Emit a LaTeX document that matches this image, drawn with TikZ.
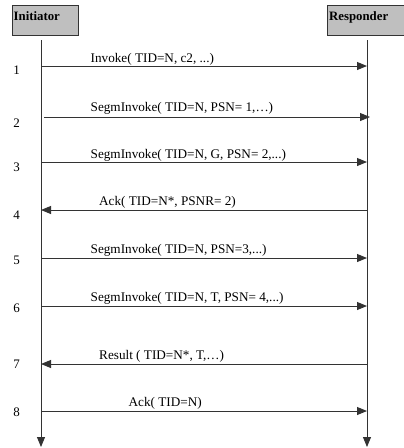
\documentclass[tikz,border=0pt]{standalone}
\usepackage{fontspec}
\setmainfont{Liberation Serif}
\usetikzlibrary{arrows.meta}
\begin{document}
\begin{tikzpicture}[x=1pt,y=-1pt,
  hdr/.style={draw=black!80,fill=black!25,line width=0.8pt},
  hdrtxt/.style={anchor=north west,inner sep=0pt,font=\fontsize{12.8}{14}\selectfont\bfseries},
  life/.style={draw=black!80,line width=0.9pt,-{Triangle[length=10pt,width=8pt]}},
  msg/.style={draw=black!80,line width=0.9pt,-{Triangle[length=10pt,width=8pt]}},
  lbl/.style={anchor=base west,inner sep=0pt,font=\fontsize{13.2}{15}\selectfont},
  num/.style={anchor=base,inner sep=0pt,font=\fontsize{13}{15}\selectfont}]
\useasboundingbox (0,0) rectangle (404,448);
\fill[white] (0,0) rectangle (404,448);
% header boxes
\draw[hdr] (12,5) rectangle (78,35);
\node[hdrtxt] (ini) at (13.5,11) {Initiator};
\draw[hdr] (327.5,5) rectangle (406,35);
\node[hdrtxt] (res) at (329,11) {Responder};
% lifelines
\coordinate (it) at (41,40);
\coordinate (ib) at (41,447);
\coordinate (rt) at (367,40);
\coordinate (rb) at (367,447);
\draw[life] (it) -- (ib);
\draw[life] (rt) -- (rb);
% message endpoints
\foreach \i/\y in {1/66,2/117,3/162,4/210,5/258,6/306,7/364,8/411}{
  \coordinate (L\i) at (41,\y);
  \coordinate (R\i) at (367,\y);
}
\coordinate (L2s) at (44,117);
\coordinate (R2e) at (370,117);
\draw[msg] (L1) -- (R1);
\draw[msg] (L2s) -- (R2e);
\draw[msg] (L3) -- (R3);
\draw[msg] (R4) -- (L4);
\draw[msg] (L5) -- (R5);
\draw[msg] (L6) -- (R6);
\draw[msg] (R7) -- (L7);
\draw[msg] (L8) -- (R8);
% labels
\node[lbl] (m1) at (90.5,62) {Invoke( TID=N, c2, ...)};
\node[lbl] (m2) at (90.5,111) {SegmInvoke( TID=N, PSN= 1,…)};
\node[lbl] (m3) at (90.5,158) {SegmInvoke( TID=N, G, PSN= 2,...)};
\node[lbl] (m4) at (99,205.5) {Ack( TID=N*, PSNR= 2)};
\node[lbl] (m5) at (90.5,253.5) {SegmInvoke( TID=N, PSN=3,...)};
\node[lbl] (m6) at (90.5,301.5) {SegmInvoke( TID=N, T, PSN= 4,...)};
\node[lbl] (m7) at (99,359.5) {Result ( TID=N*, T,…)};
\node[lbl] (m8) at (128.5,406.5) {Ack( TID=N)};
% numbers
\node[num] (n1) at (16.5,74) {1};
\node[num] (n2) at (16.5,127) {2};
\node[num] (n3) at (16.5,171) {3};
\node[num] (n4) at (16.5,219) {4};
\node[num] (n5) at (16.5,264) {5};
\node[num] (n6) at (16.5,312) {6};
\node[num] (n7) at (16.5,368) {7};
\node[num] (n8) at (16.5,416) {8};
\end{tikzpicture}
\end{document}
